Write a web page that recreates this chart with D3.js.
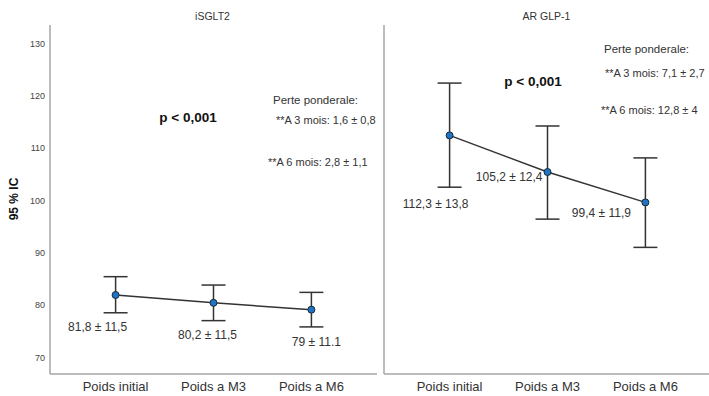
<!DOCTYPE html>
<html>
<head>
<meta charset="utf-8">
<script src="https://cdn.jsdelivr.net/npm/d3@7"></script>
<style>
  body { margin: 0; background: #fff; }
  text { font-family: "Liberation Sans", Arial, sans-serif; }
</style>
</head>
<body>
<script>
var w = 709;
var h = 396;

// data
var categories = ["Poids initial", "Poids a M3", "Poids a M6"];
var yTicks = [70, 80, 90, 100, 110, 120, 130];

var sgltMean = [82.0, 80.5, 79.2];
var sgltLow = [78.6, 77.1, 75.9];
var sgltHigh = [85.5, 83.9, 82.5];
var sgltLabels = ["81,8 ± 11,5", "80,2 ± 11,5", "79 ± 11.1"];

var glpMean = [112.5, 105.5, 99.7];
var glpLow = [102.6, 96.5, 91.1];
var glpHigh = [122.5, 114.3, 108.2];
var glpLabels = ["112,3 ± 13,8", "105,2 ± 12,4", "99,4 ± 11,9"];

var svg = d3.select("body").append("svg")
    .attr("width", w)
    .attr("height", h);

var plotTop = 25, plotBottom = 374;
var y = d3.scaleLinear().domain([66.9, 133.6]).range([plotBottom, plotTop]);

var panels = [
  {title: "iSGLT2", x0: 50, x1: 377, mean: sgltMean, low: sgltLow, high: sgltHigh, labels: sgltLabels,
   // label placement relative to each point: dx, dy, anchor
   lab: [[-18, 36, "middle"], [-6, 36, "middle"], [5, 36, "middle"]],
   p: [188, 122],
   notes: [["Perte ponderale:", 273, 104], ["**A 3 mois: 1,6 ± 0,8", 276, 124], ["**A 6 mois: 2,8 ± 1,1", 268, 166]]},
  {title: "AR GLP-1", x0: 384, x1: 711, mean: glpMean, low: glpLow, high: glpHigh, labels: glpLabels,
   lab: [[-14, 73, "middle"], [-5, 9, "end"], [-44, 15, "middle"]],
   p: [533, 86],
   notes: [["Perte ponderale:", 604, 53], ["**A 3 mois: 7,1 ± 2,7", 605, 77], ["**A 6 mois: 12,8 ± 4", 601, 114]]}
];

// y axis label
svg.append("text")
    .attr("transform", "translate(18,199) rotate(-90)")
    .attr("text-anchor", "middle")
    .style("font-size", "12px")
    .style("font-weight", "bold")
    .attr("fill", "#111")
    .text("95 % IC");

// tick labels only on the left panel
svg.append("g").selectAll("text")
    .data(yTicks)
    .enter()
    .append("text")
    .attr("x", 45)
    .attr("y", function(d){return y(d) + 3;})
    .attr("text-anchor", "end")
    .style("font-size", "9px")
    .attr("fill", "#444")
    .text(function(d){return d;});

panels.forEach(function(pn) {
  var x = d3.scalePoint().domain(categories).range([pn.x0, pn.x1]).padding(0.67);
  var g = svg.append("g");

  // axes lines
  g.append("line")
      .attr("x1", pn.x0).attr("x2", pn.x0)
      .attr("y1", plotTop).attr("y2", plotBottom)
      .attr("stroke", "#a6a6a6").attr("stroke-width", 1.5);
  g.append("line")
      .attr("x1", pn.x0).attr("x2", pn.x1)
      .attr("y1", plotBottom).attr("y2", plotBottom)
      .attr("stroke", "#a6a6a6").attr("stroke-width", 1.5);

  g.append("text")
      .attr("x", (pn.x0 + pn.x1) / 2 - 1)
      .attr("y", 20)
      .attr("text-anchor", "middle")
      .style("font-size", "10.5px")
      .attr("fill", "#333")
      .text(pn.title);

  // category labels
  g.selectAll(".cat")
      .data(categories)
      .enter()
      .append("text")
      .attr("x", function(d){return x(d);})
      .attr("y", 391)
      .attr("text-anchor", "middle")
      .style("font-size", "13px")
      .attr("fill", "#333")
      .text(function(d){return d;});

  var rows = categories.map(function(c, i) {
    return {cat: c, mean: pn.mean[i], low: pn.low[i], high: pn.high[i], label: pn.labels[i], lab: pn.lab[i]};
  });

  // error bars
  var eb = g.selectAll(".eb").data(rows).enter().append("g")
      .attr("stroke", "#333").attr("stroke-width", 1.5);
  eb.append("line")
      .attr("x1", function(d){return x(d.cat);})
      .attr("x2", function(d){return x(d.cat);})
      .attr("y1", function(d){return y(d.low);})
      .attr("y2", function(d){return y(d.high);});
  eb.append("line")
      .attr("x1", function(d){return x(d.cat) - 12;})
      .attr("x2", function(d){return x(d.cat) + 12;})
      .attr("y1", function(d){return y(d.high);})
      .attr("y2", function(d){return y(d.high);});
  eb.append("line")
      .attr("x1", function(d){return x(d.cat) - 12;})
      .attr("x2", function(d){return x(d.cat) + 12;})
      .attr("y1", function(d){return y(d.low);})
      .attr("y2", function(d){return y(d.low);});

  // mean line
  var line = d3.line()
      .x(function(d){return x(d.cat);})
      .y(function(d){return y(d.mean);});
  g.append("path")
      .datum(rows)
      .attr("d", line)
      .attr("fill", "none")
      .attr("stroke", "#333")
      .attr("stroke-width", 1.5);

  g.selectAll(".pt").data(rows).enter().append("circle")
      .attr("cx", function(d){return x(d.cat);})
      .attr("cy", function(d){return y(d.mean);})
      .attr("r", 3.5)
      .attr("fill", "#1f74c4")
      .attr("stroke", "#1b2a3a")
      .attr("stroke-width", 1);

  // value labels
  g.selectAll(".vl").data(rows).enter().append("text")
      .attr("x", function(d){return x(d.cat) + d.lab[0];})
      .attr("y", function(d){return y(d.mean) + d.lab[1];})
      .attr("text-anchor", function(d){return d.lab[2];})
      .style("font-size", "12px")
      .attr("fill", "#333")
      .text(function(d){return d.label;});

  g.append("text")
      .attr("x", pn.p[0]).attr("y", pn.p[1])
      .attr("text-anchor", "middle")
      .style("font-size", "13.5px")
      .style("font-weight", "bold")
      .attr("fill", "#111")
      .text("p < 0,001");

  g.selectAll(".note").data(pn.notes).enter().append("text")
      .attr("x", function(d){return d[1];})
      .attr("y", function(d){return d[2];})
      .style("font-size", function(d, i){return i == 0 ? "11.5px" : "11px";})
      .attr("fill", "#333")
      .text(function(d){return d[0];});
});
</script>
</body>
</html>
